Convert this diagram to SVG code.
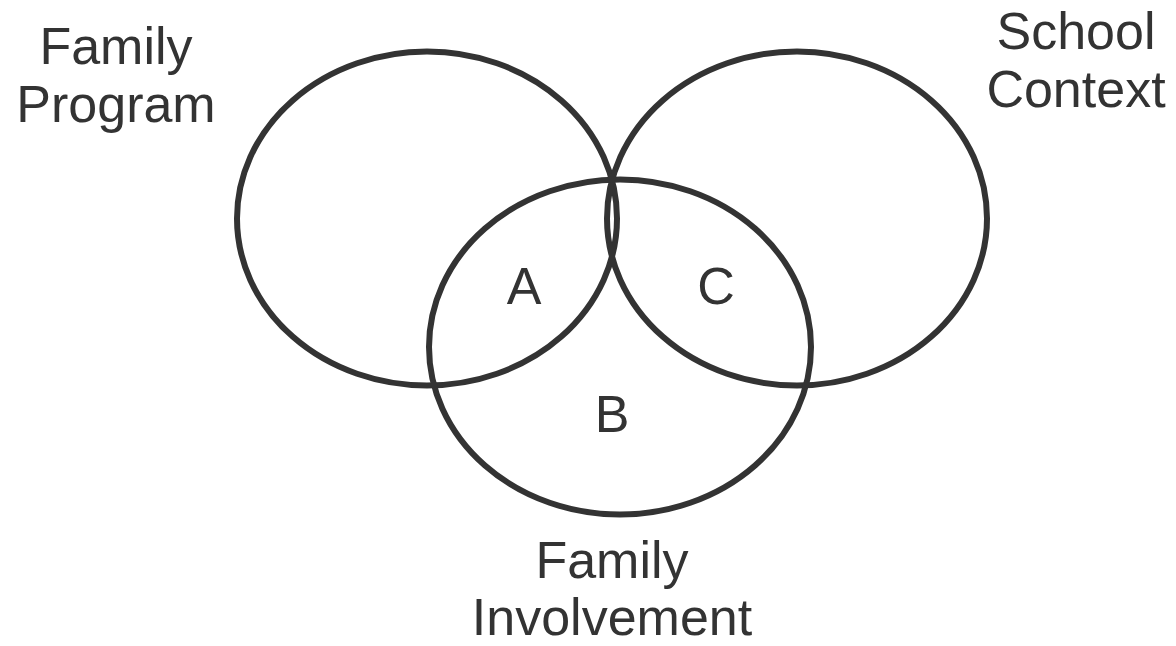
<svg xmlns="http://www.w3.org/2000/svg" width="1176" height="646" viewBox="0 0 1176 646">
<style>
.c{fill:none;stroke:#333;stroke-width:6}
text{font-family:"Liberation Sans",Arial,sans-serif;font-size:52px;fill:#333;text-anchor:middle}
</style>
<rect width="1176" height="646" fill="#fff"/>
<g id="family-program">
<ellipse class="c" cx="427" cy="218.5" rx="190" ry="167"/>
<text x="116" y="64">Family</text>
<text x="116" y="122">Program</text>
</g>
<g id="school-context">
<ellipse class="c" cx="797" cy="218.5" rx="190" ry="167"/>
<text x="1076" y="49">School</text>
<text x="1076" y="107">Context</text>
</g>
<g id="family-involvement">
<ellipse class="c" cx="620" cy="347" rx="191" ry="167.5"/>
<text x="612" y="578">Family</text>
<text x="612" y="635">Involvement</text>
</g>
<g id="regions">
<text x="524" y="304">A</text>
<text x="612" y="432">B</text>
<text x="716" y="304">C</text>
</g>
<g id="connectors"></g>
</svg>
